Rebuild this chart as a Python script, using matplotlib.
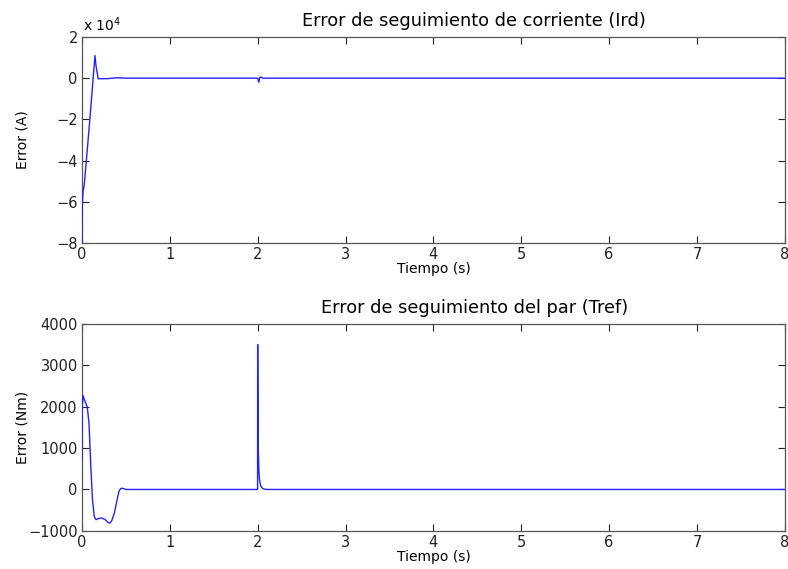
import matplotlib
matplotlib.use("Agg")
import matplotlib.pyplot as plt

# Error de seguimiento de corriente (Ird), en A
t_ird = [0, 0.004, 0.012, 0.02, 0.03, 0.09, 0.148, 0.16, 0.185, 0.3, 0.4, 0.5,
         2.0, 2.012, 2.025, 2.04, 2.06, 8]
err_ird = [-80000, -62000, -55000, -53500, -50000, -20000, 11000, 6000, -300, -200, 200, 0,
           0, -2000, 400, 500, 0, 0]

# Error de seguimiento del par (Tref), en Nm
t_par = [0, 0.004, 0.012, 0.03, 0.06, 0.08, 0.1, 0.12, 0.14, 0.16, 0.19, 0.22,
         0.26, 0.3, 0.32, 0.34, 0.37, 0.4, 0.42, 0.44, 0.46, 0.5,
         1.999, 2.0, 2.004, 2.008, 2.014, 2.02, 2.03, 2.045, 2.06, 2.08, 2.1, 8]
err_par = [700, 2000, 2270, 2150, 2000, 1600, 600, -250, -650, -730, -700, -690,
           -720, -800, -810, -750, -560, -250, -50, 20, 30, 0,
           0, 3500, 1800, 900, 450, 250, 120, 50, 20, 8, 0, 0]

fig = plt.figure(figsize=(7.88, 5.69), dpi=100)
plt.rcParams['font.family'] = 'DejaVu Sans'

ax1 = fig.add_axes([0.104, 0.573, 0.892, 0.362])
ax2 = fig.add_axes([0.104, 0.067, 0.892, 0.364])

ax1.plot(t_ird, [v / 1e4 for v in err_ird], color='#2222ff', lw=1.0, zorder=3)
ax1.set_xlim(0, 8)
ax1.set_ylim(-8, 2)
ax1.set_yticks(range(-8, 3, 2))
ax1.set_title('Error de seguimiento de corriente (Ird)', fontsize=12.8, pad=8, x=0.558)
ax1.set_ylabel('Error (A)', fontsize=10)
ax1.text(0.002, 1.03, r'x 10$^4$', transform=ax1.transAxes, fontsize=10)

ax2.plot(t_par, err_par, color='#2222ff', lw=1.0, zorder=3)
ax2.set_xlim(0, 8)
ax2.set_ylim(-1000, 4000)
ax2.set_yticks(range(-1000, 4001, 1000))
ax2.set_title('Error de seguimiento del par (Tref)', fontsize=12.8, pad=8, x=0.558)
ax2.set_ylabel('Error (Nm)', fontsize=10)

for ax in (ax1, ax2):
    ax.set_xticks(range(0, 9))
    ax.set_xlabel('Tiempo (s)', fontsize=10, labelpad=0)
    ax.yaxis.set_label_coords(-0.075, 0.5)
    ax.tick_params(direction='in', top=True, right=True, length=5,
                   labelsize=10.5, colors='#222222', pad=3)
    for s in ax.spines.values():
        s.set_color('#555555')
        s.set_linewidth(0.9)

fig.savefig('out.png', dpi=100)
